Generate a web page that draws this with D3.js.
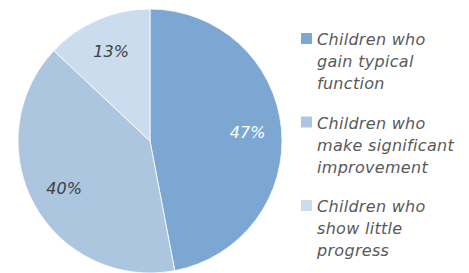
<!DOCTYPE html>
<meta charset="utf-8">
<script src="https://d3js.org/d3.v7.min.js"></script>
<style>
  body { margin: 0; background: #fff; }
  text { font-family: "DejaVu Sans", Verdana, sans-serif; font-style: italic; }
</style>
<div id="my_dataviz"></div>
<script>

// data
var categories = ["Children who gain typical function",
                  "Children who make significant improvement",
                  "Children who show little progress"];
var values = [47, 40, 13];
var legendLines = [["Children who", "gain typical", "function"],
                   ["Children who", "make significant", "improvement"],
                   ["Children who", "show little", "progress"]];
var colors = ["#7ba7d2", "#adc6e0", "#cbdcee"];
var labelColors = ["#ffffff", "#404040", "#404040"];

var width = 469, height = 273;
var cx = 150, cy = 141, radius = 132;

var svg = d3.select("#my_dataviz")
  .append("svg")
    .attr("width", width)
    .attr("height", height);

var data = categories.map(function(c, i) { return {name: c, value: values[i], i: i}; });

var pie = d3.pie().sort(null).value(function(d) { return d.value; });
var arcs = pie(data);

var arc = d3.arc().innerRadius(0).outerRadius(radius);
var labelArc = d3.arc().innerRadius(98).outerRadius(98);

var g = svg.append("g").attr("transform", "translate(" + cx + "," + cy + ")");

g.selectAll("path")
  .data(arcs)
  .enter().append("path")
    .attr("d", arc)
    .attr("fill", function(d) { return colors[d.data.i]; })
    .attr("stroke", "#ffffff")
    .attr("stroke-width", 0.8);

g.selectAll("text.lbl")
  .data(arcs)
  .enter().append("text")
    .attr("class", "lbl")
    .attr("transform", function(d) { return "translate(" + labelArc.centroid(d) + ")"; })
    .attr("text-anchor", "middle")
    .attr("dy", "0.36em")
    .style("font-size", "16px")
    .attr("fill", function(d) { return labelColors[d.data.i]; })
    .text(function(d) { return d.data.value + "%"; });

// legend
var legend = svg.append("g").attr("transform", "translate(301,45)");
var item = legend.selectAll("g")
  .data(data)
  .enter().append("g")
    .attr("transform", function(d, i) { return "translate(0," + (i * 83.5) + ")"; });

item.append("rect")
  .attr("x", 0).attr("y", -12)
  .attr("width", 11).attr("height", 11)
  .attr("fill", function(d) { return colors[d.i]; });

item.append("text")
  .attr("x", 16)
  .style("font-size", "16px")
  .style("letter-spacing", "0.3px")
  .attr("fill", "#595959")
  .selectAll("tspan")
  .data(function(d) { return legendLines[d.i]; })
  .enter().append("tspan")
    .attr("x", 16)
    .attr("y", function(d, j) { return j * 22; })
    .text(function(d) { return d; });

</script>
